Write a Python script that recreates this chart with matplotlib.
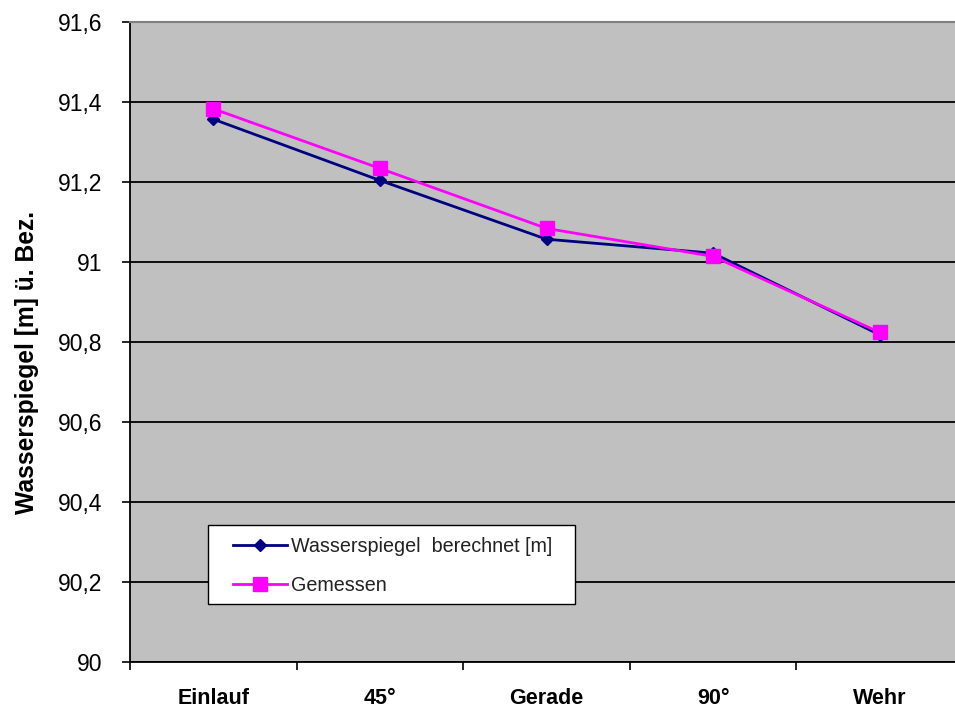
import matplotlib.pyplot as plt
from matplotlib.patches import Rectangle
from matplotlib.ticker import FuncFormatter, FixedLocator

plt.rcParams['font.family'] = ['Liberation Sans', 'DejaVu Sans']

# Data
stationen = ["Einlauf", "45°", "Gerade", "90°", "Wehr"]
berechnet = [91.357, 91.204, 91.057, 91.022, 90.818]
gemessen = [91.383, 91.234, 91.084, 91.014, 90.824]
y_ticks = [90.0, 90.2, 90.4, 90.6, 90.8, 91.0, 91.2, 91.4, 91.6]

W, H = 955, 711
fig = plt.figure(figsize=(W / 100, H / 100), dpi=100)
ax = fig.add_axes([130 / W, 49 / H, 833 / W, 640 / H])
ax.set_facecolor("#C0C0C0")

x = range(len(stationen))
ax.plot(x, berechnet, color="#000080", marker="D", markersize=6, linewidth=2,
        label="Wasserspiegel  berechnet [m]", zorder=3)
ax.plot(x, gemessen, color="#FF00FF", marker="s", markersize=10, linewidth=2,
        label="Gemessen", zorder=4)

ax.set_xlim(-0.5, len(stationen) - 0.5)
ax.set_ylim(90, 91.6)
ax.set_yticks(y_ticks)
ax.yaxis.set_major_formatter(FuncFormatter(lambda v, p: ("%g" % round(v, 1)).replace(".", ",")))
ax.grid(axis="y", color="black", linewidth=1.3)
ax.set_axisbelow(True)

ax.set_xticks(list(x))
ax.set_xticklabels(stationen, fontsize=15.5, fontweight="bold")
ax.tick_params(axis="x", which="major", length=0, pad=19)
ax.xaxis.set_minor_locator(FixedLocator([i + 0.5 for i in range(-1, len(stationen))]))
ax.tick_params(axis="x", which="minor", length=6, width=1.2, direction="out")
ax.tick_params(axis="y", length=6, width=1.2, direction="out", labelsize=16.5, pad=14)

for s in ["left", "bottom"]:
    ax.spines[s].set_color("black")
    ax.spines[s].set_linewidth(1.3)
ax.spines["top"].set_color("#808080")
ax.spines["top"].set_linewidth(1.5)
ax.spines["right"].set_visible(False)

ax.set_ylabel("Wasserspiegel [m] ü. Bez.", fontsize=17.7, fontweight="bold")
ax.yaxis.set_label_coords(-(130 - 39) / 833, (662 - 362) / 640)

# legend box (white, black edge) and entries
box = Rectangle((208 / W, 1 - 604 / H), (575 - 208) / W, (604 - 525) / H,
                transform=fig.transFigure, facecolor="white", edgecolor="black",
                linewidth=1.0, zorder=5)
fig.patches.append(box)
leg = fig.legend(loc="upper left", bbox_to_anchor=(233 / W, 1 - 537 / H),
                 frameon=False, fontsize=14.2, handlelength=2.75,
                 borderpad=0, labelspacing=1.0, handletextpad=0.2, borderaxespad=0)
leg.set_zorder(6)
for t in leg.get_texts():
    t.set_color("#222222")

fig.savefig("out.png", dpi=100)
